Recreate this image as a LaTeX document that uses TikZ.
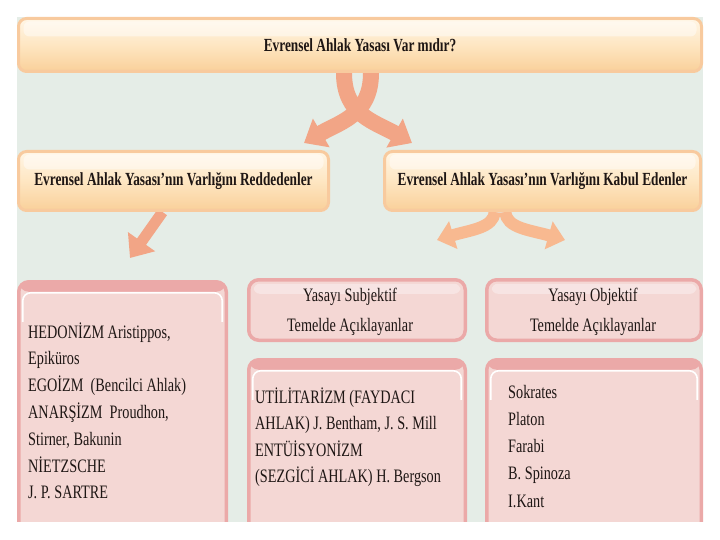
\documentclass[tikz,border=0pt]{standalone}
\usepackage{fontspec}
\setmainfont{Liberation Serif}[FakeStretch=0.75]
\newfontfamily\hdrfont{Liberation Serif}[FakeStretch=0.72]
\usetikzlibrary{arrows.meta}
\definecolor{bgc}{HTML}{E5EDE7}
\definecolor{obord}{HTML}{F8CA9E}
\definecolor{otop}{HTML}{FFF6E6}
\definecolor{omid}{HTML}{FEE6C2}
\definecolor{obot}{HTML}{F9D09A}
\definecolor{pout}{HTML}{EBA9A8}
\definecolor{pfill}{HTML}{F4D7D4}
\definecolor{arrA}{HTML}{F2A586}
\definecolor{arrB}{HTML}{F8B990}
\definecolor{txt}{HTML}{1E1614}
\pgfdeclarelayer{back}
\pgfsetlayers{back,main}
\tikzset{
  obox/.style={draw=obord, line width=3pt, rounded corners=8pt,
    top color=otop, bottom color=obot, middle color=omid,
    font=\hdrfont\bfseries\fontsize{18.5}{20}\selectfont, text=txt, inner sep=0pt,
    path picture={\fill[white,opacity=0.45,rounded corners=6pt]
      ([xshift=5pt,yshift=-3pt]path picture bounding box.north west) rectangle
      ([xshift=-5pt,yshift=-18pt]path picture bounding box.north east);}},
  pbox/.style={draw=pout, line width=3.5pt, rounded corners=10pt, fill=pfill, inner sep=0pt,
    path picture={\fill[pout] (path picture bounding box.north west) rectangle
      ([yshift=-10pt]path picture bounding box.north east);
      \draw[white, line width=1.6pt, rounded corners=8pt]
      ([xshift=4pt,yshift=-40pt]path picture bounding box.north west) --
      ([xshift=4pt,yshift=-11pt]path picture bounding box.north west) --
      ([xshift=-4pt,yshift=-11pt]path picture bounding box.north east) --
      ([xshift=-4pt,yshift=-40pt]path picture bounding box.north east);}},
  psmall/.style={draw=pout, line width=3.5pt, rounded corners=10pt, fill=pfill, inner sep=0pt,
    path picture={\fill[white,opacity=0.35,rounded corners=6pt]
      ([xshift=5pt,yshift=-4pt]path picture bounding box.north west) rectangle
      ([xshift=-5pt,yshift=-14pt]path picture bounding box.north east);}},
  bodytxt/.style={font=\fontsize{19}{26.8}\selectfont, text=txt, inner sep=0pt},
  bigarrow/.style={draw=arrA, line width=16pt, -{Triangle[width=32pt,length=20pt]}},
  smallarrow/.style={draw=arrB, line width=12pt, -{Triangle[width=28pt,length=17pt]}}
}
\begin{document}
\begin{tikzpicture}[x=1pt,y=-1pt]
\useasboundingbox (0,0) rectangle (720,540);
\begin{pgfonlayer}{back}
\fill[bgc] (17,17) rectangle (703,522);
\end{pgfonlayer}
% orange boxes
\node[obox, minimum width=683pt, minimum height=53pt] (title) at (360,45) {Evrensel Ahlak Yasası Var mıdır?};
\node[obox, minimum width=310pt, minimum height=59pt] (rej) at (173.5,181) {Evrensel Ahlak Yasası’nın Varlığını Reddedenler};
\node[obox, minimum width=316pt, minimum height=59pt] (acc) at (542.5,181) {Evrensel Ahlak Yasası’nın Varlığını Kabul Edenler};
% pink boxes
\node[pbox, minimum width=207.5pt, minimum height=256.5pt] (hed) at (122.5,410) {};
\node[psmall, minimum width=216.5pt, minimum height=60.5pt] (subj) at (357,310) {};
\node[psmall, minimum width=214.5pt, minimum height=60.5pt] (obj) at (594,310) {};
\node[pbox, minimum width=216.5pt, minimum height=178.5pt] (util) at (357,449) {};
\node[pbox, minimum width=214.5pt, minimum height=178.5pt] (names) at (594,449) {};
% texts
\node[bodytxt, anchor=base west] (hedt) at (28,338) {\begin{tabular}[t]{@{}l@{}}HEDONİZM Aristippos,\\ Epiküros\\ EGOİZM\ \ (Bencilci Ahlak)\\ ANARŞİZM\ \ Proudhon,\\ Stirner, Bakunin\\ NİETZSCHE\\ J. P. SARTRE\end{tabular}};
\node[bodytxt, anchor=base, font=\fontsize{19}{30}\selectfont] (subjt) at (350,301) {\begin{tabular}[t]{@{}c@{}}Yasayı Subjektif\\ Temelde Açıklayanlar\end{tabular}};
\node[bodytxt, anchor=base, font=\fontsize{19}{30}\selectfont] (objt) at (593,301) {\begin{tabular}[t]{@{}c@{}}Yasayı Objektif\\ Temelde Açıklayanlar\end{tabular}};
\node[bodytxt, anchor=base west, font=\fontsize{19}{26.5}\selectfont] (utilt) at (255,403) {\begin{tabular}[t]{@{}l@{}}UTİLİTARİZM (FAYDACI\\ AHLAK) J. Bentham, J. S. Mill\\ ENTÜİSYONİZM\\ (SEZGİCİ AHLAK) H. Bergson\end{tabular}};
\node[bodytxt, anchor=base west, font=\fontsize{19}{27.3}\selectfont] (namest) at (508,398) {\begin{tabular}[t]{@{}l@{}}Sokrates\\ Platon\\ Farabi\\ B. Spinoza\\ I.Kant\end{tabular}};
% arrows
\begin{pgfonlayer}{back}
\coordinate (tipR) at (412,143);
\coordinate (tipL) at (304,143);
\draw[bigarrow] ([xshift=-16pt]title.south) .. controls (344,115) and (375,122) .. (tipR);
\draw[bigarrow] ([xshift=11pt]title.south) .. controls (371,115) and (340,122) .. (tipL);
\coordinate (tipD) at (130,258);
\draw[bigarrow, line width=11pt] ([xshift=-11pt]rej.south) -- (tipD);
\coordinate (tipAL) at (437,240);
\coordinate (tipAR) at (565,240);
\draw[smallarrow] ([xshift=-48pt]acc.south) .. controls (494,228) and (470,230) .. (tipAL);
\draw[smallarrow] ([xshift=-37pt]acc.south) .. controls (506,228) and (530,230) .. (tipAR);
\end{pgfonlayer}
\fill[white] (0,522) rectangle (720,540);
\end{tikzpicture}
\end{document}
